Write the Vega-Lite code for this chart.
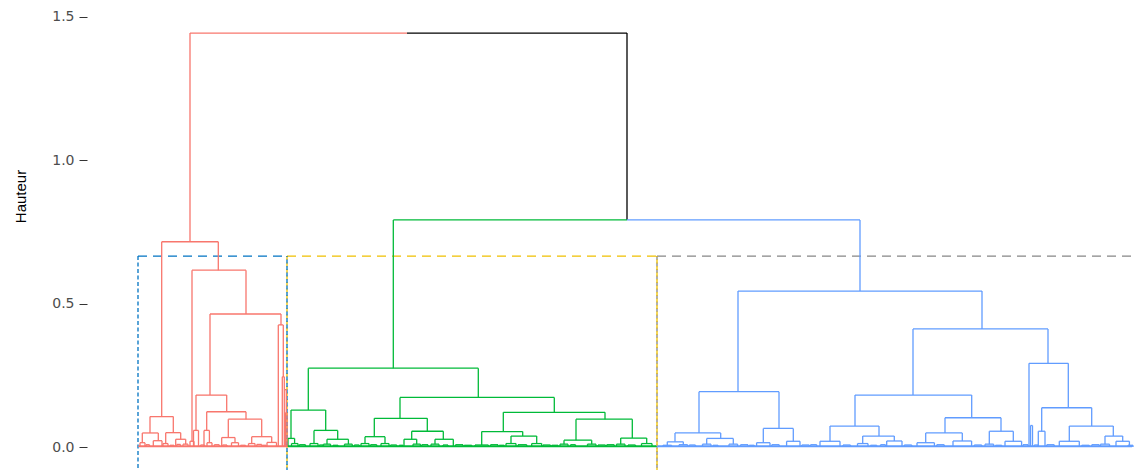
{
  "$schema": "https://vega.github.io/schema/vega-lite/v6.json",
  "width": 1049,
  "height": 470,
  "autosize": {"type": "none"},
  "padding": {"left": 87, "top": 0, "right": 0, "bottom": 0},
  "background": "white",
  "config": {
    "view": {"stroke": null},
    "font": "Liberation Sans",
    "axisY": {
      "domain": false, "grid": false, "ticks": true, "tickSize": 8, "tickColor": "#333333", "tickWidth": 1,
      "labelColor": "#4D4D4D", "labelFontSize": 14, "labelFont": "DejaVu Sans", "labelPadding": 5,
      "titleFont": "Liberation Sans", "titleFontSize": 15, "titleFontWeight": "normal", "titleColor": "#000000",
      "titleX": -67, "titleY": 196, "titleAngle": 270, "titleAlign": "center", "titleBaseline": "middle"
    }
  },
  "datasets": {
    "nodes": [
      {"a": 0.4, "b": 59.4, "h": 0.004, "ha": 0, "hb": 0, "c": "r"},
      {"a": 0.4, "b": 59.4, "h": 0.0015, "ha": 0, "hb": 0, "c": "r"},
      {"a": 9.48, "b": 32.12, "h": 0.716, "ha": 0.106, "hb": 0.617, "c": "r"},
      {"a": 4.8, "b": 14.12, "h": 0.106, "ha": 0.049, "hb": 0.05, "c": "r"},
      {"a": 1.72, "b": 8.12, "h": 0.049, "ha": 0.015, "hb": 0.022, "c": "r"},
      {"a": 0.8, "b": 2.8, "h": 0.015, "ha": 0, "hb": 0, "c": "r"},
      {"a": 6.12, "b": 9.6, "h": 0.022, "ha": 0, "hb": 0, "c": "r"},
      {"a": 11.08, "b": 17.08, "h": 0.05, "ha": 0.012, "hb": 0.027, "c": "r"},
      {"a": 10, "b": 12, "h": 0.012, "ha": 0, "hb": 0, "c": "r"},
      {"a": 15.08, "b": 19.08, "h": 0.027, "ha": 0, "hb": 0.01, "c": "r"},
      {"a": 18, "b": 20, "h": 0.01, "ha": 0, "hb": 0, "c": "r"},
      {"a": 21.6, "b": 43.2, "h": 0.617, "ha": 0.02, "hb": 0.464, "c": "r"},
      {"a": 20.8, "b": 22.4, "h": 0.02, "ha": 0, "hb": 0, "c": "r"},
      {"a": 28.8, "b": 57.2, "h": 0.464, "ha": 0.181, "hb": 0.426, "c": "r"},
      {"a": 23.2, "b": 35.48, "h": 0.181, "ha": 0.058, "hb": 0.123, "c": "r"},
      {"a": 22.2, "b": 24.2, "h": 0.058, "ha": 0, "hb": 0, "c": "r"},
      {"a": 27.48, "b": 43.2, "h": 0.123, "ha": 0.058, "hb": 0.097, "c": "r"},
      {"a": 26.4, "b": 28.56, "h": 0.058, "ha": 0, "hb": 0.015, "c": "r"},
      {"a": 27.6, "b": 29.6, "h": 0.015, "ha": 0, "hb": 0, "c": "r"},
      {"a": 36.12, "b": 49.48, "h": 0.097, "ha": 0.033, "hb": 0.036, "c": "r"},
      {"a": 33.48, "b": 38.8, "h": 0.033, "ha": 0, "hb": 0.015, "c": "r"},
      {"a": 37.4, "b": 40.2, "h": 0.015, "ha": 0, "hb": 0, "c": "r"},
      {"a": 45.48, "b": 53.48, "h": 0.036, "ha": 0.012, "hb": 0.016, "c": "r"},
      {"a": 44.2, "b": 46.8, "h": 0.012, "ha": 0, "hb": 0, "c": "r"},
      {"a": 51.6, "b": 55.4, "h": 0.016, "ha": 0, "hb": 0, "c": "r"},
      {"a": 56.12, "b": 58.12, "h": 0.426, "ha": 0, "hb": 0.245, "c": "r"},
      {"a": 57.72, "b": 58.52, "h": 0.245, "ha": 0, "hb": 0.2, "c": "r"},
      {"a": 58.52, "b": 59.32, "h": 0.2, "ha": 0, "hb": 0.12, "c": "r"},
      {"a": 59, "b": 59.6, "h": 0.12, "ha": 0, "hb": 0, "c": "r"},
      {"a": 3.2, "b": 4.6, "h": 0.008, "ha": 0, "hb": 0, "c": "r"},
      {"a": 12.8, "b": 14.4, "h": 0.006, "ha": 0, "hb": 0, "c": "r"},
      {"a": 15.5, "b": 17, "h": 0.009, "ha": 0, "hb": 0, "c": "r"},
      {"a": 25, "b": 26.6, "h": 0.007, "ha": 0, "hb": 0, "c": "r"},
      {"a": 30.5, "b": 32.5, "h": 0.008, "ha": 0, "hb": 0, "c": "r"},
      {"a": 33.8, "b": 35.6, "h": 0.007, "ha": 0, "hb": 0, "c": "r"},
      {"a": 41, "b": 43, "h": 0.006, "ha": 0, "hb": 0, "c": "r"},
      {"a": 47.5, "b": 49.5, "h": 0.009, "ha": 0, "hb": 0, "c": "r"},
      {"a": 49.8, "b": 51.2, "h": 0.006, "ha": 0, "hb": 0, "c": "r"},

      {"a": 60, "b": 207.2, "h": 0.004, "ha": 0, "hb": 0, "c": "g"},
      {"a": 60, "b": 207.2, "h": 0.0015, "ha": 0, "hb": 0, "c": "g"},
      {"a": 68.12, "b": 136.12, "h": 0.275, "ha": 0.129, "hb": 0.173, "c": "g"},
      {"a": 61.2, "b": 75.08, "h": 0.129, "ha": 0.03, "hb": 0.058, "c": "g"},
      {"a": 60, "b": 62.64, "h": 0.03, "ha": 0, "hb": 0.012, "c": "g"},
      {"a": 61.4, "b": 64, "h": 0.012, "ha": 0, "hb": 0, "c": "g"},
      {"a": 70.4, "b": 79.88, "h": 0.058, "ha": 0.012, "hb": 0.027, "c": "g"},
      {"a": 68.8, "b": 72, "h": 0.012, "ha": 0, "hb": 0, "c": "g"},
      {"a": 75.6, "b": 84.16, "h": 0.027, "ha": 0.01, "hb": 0.01, "c": "g"},
      {"a": 74.2, "b": 77, "h": 0.01, "ha": 0, "hb": 0, "c": "g"},
      {"a": 82.6, "b": 85.72, "h": 0.01, "ha": 0, "hb": 0, "c": "g"},
      {"a": 104.8, "b": 166.52, "h": 0.173, "ha": 0.1, "hb": 0.121, "c": "g"},
      {"a": 94.52, "b": 115.72, "h": 0.1, "ha": 0.036, "hb": 0.055, "c": "g"},
      {"a": 90.8, "b": 98.8, "h": 0.036, "ha": 0.012, "hb": 0.012, "c": "g"},
      {"a": 89.2, "b": 92.4, "h": 0.012, "ha": 0, "hb": 0, "c": "g"},
      {"a": 97.2, "b": 100.4, "h": 0.012, "ha": 0, "hb": 0, "c": "g"},
      {"a": 109.48, "b": 122.12, "h": 0.055, "ha": 0.027, "hb": 0.027, "c": "g"},
      {"a": 106.4, "b": 111.48, "h": 0.027, "ha": 0, "hb": 0.01, "c": "g"},
      {"a": 110, "b": 112.96, "h": 0.01, "ha": 0, "hb": 0, "c": "g"},
      {"a": 118.8, "b": 126.12, "h": 0.027, "ha": 0.01, "hb": 0, "c": "g"},
      {"a": 117.2, "b": 120.4, "h": 0.01, "ha": 0, "hb": 0, "c": "g"},
      {"a": 146.12, "b": 186.8, "h": 0.121, "ha": 0.054, "hb": 0.097, "c": "g"},
      {"a": 137.48, "b": 153.88, "h": 0.054, "ha": 0.007, "hb": 0.038, "c": "g"},
      {"a": 134.8, "b": 140.16, "h": 0.007, "ha": 0, "hb": 0, "c": "g"},
      {"a": 149.2, "b": 159.48, "h": 0.038, "ha": 0.012, "hb": 0.012, "c": "g"},
      {"a": 147.2, "b": 151.2, "h": 0.012, "ha": 0, "hb": 0, "c": "g"},
      {"a": 157.48, "b": 161.48, "h": 0.012, "ha": 0, "hb": 0, "c": "g"},
      {"a": 175.2, "b": 197.72, "h": 0.097, "ha": 0.024, "hb": 0.031, "c": "g"},
      {"a": 170.4, "b": 181.48, "h": 0.024, "ha": 0.01, "hb": 0.01, "c": "g"},
      {"a": 168.8, "b": 172, "h": 0.01, "ha": 0, "hb": 0, "c": "g"},
      {"a": 179.8, "b": 183.2, "h": 0.01, "ha": 0, "hb": 0, "c": "g"},
      {"a": 193.08, "b": 203.48, "h": 0.031, "ha": 0.01, "hb": 0.012, "c": "g"},
      {"a": 191.4, "b": 194.8, "h": 0.01, "ha": 0, "hb": 0, "c": "g"},
      {"a": 201.4, "b": 205.6, "h": 0.012, "ha": 0, "hb": 0, "c": "g"},
      {"a": 64.5, "b": 67, "h": 0.008, "ha": 0, "hb": 0, "c": "g"},
      {"a": 72.5, "b": 74, "h": 0.007, "ha": 0, "hb": 0, "c": "g"},
      {"a": 78, "b": 80, "h": 0.006, "ha": 0, "hb": 0, "c": "g"},
      {"a": 86.5, "b": 88.5, "h": 0.007, "ha": 0, "hb": 0, "c": "g"},
      {"a": 93, "b": 95.5, "h": 0.008, "ha": 0, "hb": 0, "c": "g"},
      {"a": 101, "b": 103.5, "h": 0.007, "ha": 0, "hb": 0, "c": "g"},
      {"a": 104.5, "b": 106, "h": 0.006, "ha": 0, "hb": 0, "c": "g"},
      {"a": 113.5, "b": 116, "h": 0.008, "ha": 0, "hb": 0, "c": "g"},
      {"a": 122, "b": 124, "h": 0.007, "ha": 0, "hb": 0, "c": "g"},
      {"a": 127, "b": 130, "h": 0.008, "ha": 0, "hb": 0, "c": "g"},
      {"a": 130.5, "b": 133.5, "h": 0.006, "ha": 0, "hb": 0, "c": "g"},
      {"a": 141, "b": 144, "h": 0.008, "ha": 0, "hb": 0, "c": "g"},
      {"a": 144.5, "b": 146.5, "h": 0.006, "ha": 0, "hb": 0, "c": "g"},
      {"a": 152, "b": 155.5, "h": 0.008, "ha": 0, "hb": 0, "c": "g"},
      {"a": 162, "b": 165, "h": 0.007, "ha": 0, "hb": 0, "c": "g"},
      {"a": 165.5, "b": 168, "h": 0.006, "ha": 0, "hb": 0, "c": "g"},
      {"a": 173, "b": 175, "h": 0.008, "ha": 0, "hb": 0, "c": "g"},
      {"a": 184, "b": 187, "h": 0.007, "ha": 0, "hb": 0, "c": "g"},
      {"a": 187.5, "b": 190.5, "h": 0.008, "ha": 0, "hb": 0, "c": "g"},
      {"a": 196, "b": 199, "h": 0.007, "ha": 0, "hb": 0, "c": "g"},

      {"a": 208, "b": 397.6, "h": 0.004, "ha": 0, "hb": 0, "c": "b"},
      {"a": 208, "b": 397.6, "h": 0.0015, "ha": 0, "hb": 0, "c": "b"},
      {"a": 240, "b": 337.6, "h": 0.544, "ha": 0.193, "hb": 0.412, "c": "b"},
      {"a": 224.4, "b": 256.4, "h": 0.193, "ha": 0.049, "hb": 0.065, "c": "b"},
      {"a": 214.8, "b": 233.08, "h": 0.049, "ha": 0.018, "hb": 0.03, "c": "b"},
      {"a": 211.72, "b": 218.12, "h": 0.018, "ha": 0.006, "hb": 0.008, "c": "b"},
      {"a": 210, "b": 213.44, "h": 0.006, "ha": 0, "hb": 0, "c": "b"},
      {"a": 216.4, "b": 219.84, "h": 0.008, "ha": 0, "hb": 0, "c": "b"},
      {"a": 227.48, "b": 238.12, "h": 0.03, "ha": 0.01, "hb": 0.01, "c": "b"},
      {"a": 225.8, "b": 229.2, "h": 0.01, "ha": 0, "hb": 0, "c": "b"},
      {"a": 236.4, "b": 239.84, "h": 0.01, "ha": 0, "hb": 0, "c": "b"},
      {"a": 250.12, "b": 262.12, "h": 0.065, "ha": 0.015, "hb": 0.02, "c": "b"},
      {"a": 247.44, "b": 252.8, "h": 0.015, "ha": 0, "hb": 0, "c": "b"},
      {"a": 259.44, "b": 264.8, "h": 0.02, "ha": 0, "hb": 0, "c": "b"},
      {"a": 310, "b": 364, "h": 0.412, "ha": 0.181, "hb": 0.292, "c": "b"},
      {"a": 286.8, "b": 333.48, "h": 0.181, "ha": 0.073, "hb": 0.102, "c": "b"},
      {"a": 276.8, "b": 296.4, "h": 0.073, "ha": 0.02, "hb": 0.038, "c": "b"},
      {"a": 272.8, "b": 280.8, "h": 0.02, "ha": 0, "hb": 0, "c": "b"},
      {"a": 289.88, "b": 302.52, "h": 0.038, "ha": 0.012, "hb": 0.021, "c": "b"},
      {"a": 287.8, "b": 292, "h": 0.012, "ha": 0, "hb": 0, "c": "b"},
      {"a": 299.48, "b": 305.6, "h": 0.021, "ha": 0, "hb": 0, "c": "b"},
      {"a": 322.8, "b": 345.2, "h": 0.102, "ha": 0.049, "hb": 0.055, "c": "b"},
      {"a": 315.08, "b": 329.72, "h": 0.049, "ha": 0.015, "hb": 0.021, "c": "b"},
      {"a": 311.6, "b": 318.56, "h": 0.015, "ha": 0, "hb": 0, "c": "b"},
      {"a": 326, "b": 333.44, "h": 0.021, "ha": 0, "hb": 0, "c": "b"},
      {"a": 340.52, "b": 350.12, "h": 0.055, "ha": 0.01, "hb": 0.02, "c": "b"},
      {"a": 338.8, "b": 342.24, "h": 0.01, "ha": 0, "hb": 0, "c": "b"},
      {"a": 346.8, "b": 353.44, "h": 0.02, "ha": 0, "hb": 0, "c": "b"},
      {"a": 356.4, "b": 372.12, "h": 0.292, "ha": 0, "hb": 0.137, "c": "b"},
      {"a": 357, "b": 357.8, "h": 0.075, "ha": 0, "hb": 0, "c": "b"},
      {"a": 361.48, "b": 381.48, "h": 0.137, "ha": 0.055, "hb": 0.073, "c": "b"},
      {"a": 360.12, "b": 362.8, "h": 0.055, "ha": 0, "hb": 0, "c": "b"},
      {"a": 372.52, "b": 390.12, "h": 0.073, "ha": 0.02, "hb": 0.038, "c": "b"},
      {"a": 368.52, "b": 376.52, "h": 0.02, "ha": 0, "hb": 0, "c": "b"},
      {"a": 386.8, "b": 393.88, "h": 0.038, "ha": 0.01, "hb": 0.02, "c": "b"},
      {"a": 385, "b": 388.6, "h": 0.01, "ha": 0, "hb": 0, "c": "b"},
      {"a": 391.2, "b": 396.56, "h": 0.02, "ha": 0, "hb": 0, "c": "b"},
      {"a": 220.5, "b": 223, "h": 0.007, "ha": 0, "hb": 0, "c": "b"},
      {"a": 230, "b": 232, "h": 0.006, "ha": 0, "hb": 0, "c": "b"},
      {"a": 241, "b": 244, "h": 0.008, "ha": 0, "hb": 0, "c": "b"},
      {"a": 244.5, "b": 246.5, "h": 0.006, "ha": 0, "hb": 0, "c": "b"},
      {"a": 253.5, "b": 256.5, "h": 0.008, "ha": 0, "hb": 0, "c": "b"},
      {"a": 265.5, "b": 268.5, "h": 0.007, "ha": 0, "hb": 0, "c": "b"},
      {"a": 269, "b": 271.5, "h": 0.008, "ha": 0, "hb": 0, "c": "b"},
      {"a": 282, "b": 285, "h": 0.007, "ha": 0, "hb": 0, "c": "b"},
      {"a": 293, "b": 295.5, "h": 0.006, "ha": 0, "hb": 0, "c": "b"},
      {"a": 297, "b": 299, "h": 0.008, "ha": 0, "hb": 0, "c": "b"},
      {"a": 306.5, "b": 309.5, "h": 0.007, "ha": 0, "hb": 0, "c": "b"},
      {"a": 319.5, "b": 322.5, "h": 0.008, "ha": 0, "hb": 0, "c": "b"},
      {"a": 334.5, "b": 337.5, "h": 0.007, "ha": 0, "hb": 0, "c": "b"},
      {"a": 343, "b": 345.5, "h": 0.006, "ha": 0, "hb": 0, "c": "b"},
      {"a": 354, "b": 356, "h": 0.008, "ha": 0, "hb": 0, "c": "b"},
      {"a": 358.5, "b": 360, "h": 0.007, "ha": 0, "hb": 0, "c": "b"},
      {"a": 363.5, "b": 366.5, "h": 0.008, "ha": 0, "hb": 0, "c": "b"},
      {"a": 377.5, "b": 380.5, "h": 0.006, "ha": 0, "hb": 0, "c": "b"},
      {"a": 381.5, "b": 384.5, "h": 0.008, "ha": 0, "hb": 0, "c": "b"},
      {"a": 396, "b": 398, "h": 0.006, "ha": 0, "hb": 0, "c": "b"}
    ],
    "top": [
      {"x": 20.8, "x2": 107.6, "y": 1.444, "y2": 1.444, "c": "r"},
      {"x": 107.6, "x2": 195.6, "y": 1.444, "y2": 1.444, "c": "k"},
      {"x": 20.8, "x2": 20.8, "y": 0.716, "y2": 1.444, "c": "r"},
      {"x": 195.6, "x2": 195.6, "y": 0.792, "y2": 1.444, "c": "k"},
      {"x": 102.12, "x2": 195.6, "y": 0.792, "y2": 0.792, "c": "g"},
      {"x": 195.6, "x2": 288.8, "y": 0.792, "y2": 0.792, "c": "b"},
      {"x": 102.12, "x2": 102.12, "y": 0.275, "y2": 0.792, "c": "g"},
      {"x": 288.8, "x2": 288.8, "y": 0.544, "y2": 0.792, "c": "b"}
    ],
    "rects": [
      {"x": 0, "x2": 59.6, "h": 0.666, "c": "c1"},
      {"x": 59.6, "x2": 207.6, "h": 0.666, "c": "c2"},
      {"x": 207.6, "x2": 402, "h": 0.666, "c": "c3"}
    ]
  },
  "layer": [
    {
      "data": {"name": "rects"},
      "mark": {"type": "rule", "strokeDash": [9, 6], "strokeWidth": 1.3, "clip": true},
      "encoding": {
        "x": {"field": "x", "type": "quantitative", "scale": {"domain": [-20.4, 399.2], "nice": false, "zero": false}, "axis": null},
        "x2": {"field": "x2"},
        "y": {"field": "h", "type": "quantitative", "title": "Hauteur", "scale": {"domain": [-0.0802, 1.5593], "nice": false, "zero": false}, "axis": {"values": [0, 0.5, 1, 1.5], "format": ".1f", "title": "Hauteur"}},
        "color": {"field": "c", "type": "nominal", "legend": null, "scale": {"domain": ["r", "g", "b", "k", "c1", "c2", "c3"], "range": ["#F8766D", "#00BA38", "#619CFF", "#000000", "#0073C2", "#EFC000", "#868686"]}}
      }
    },
    {
      "data": {"name": "rects"},
      "mark": {"type": "rule", "strokeDash": [4, 2.5], "strokeWidth": 1.3, "clip": true},
      "encoding": {
        "x": {"field": "x", "type": "quantitative", "scale": {"domain": [-20.4, 399.2], "nice": false, "zero": false}, "axis": null},
        "y": {"field": "h", "type": "quantitative", "title": "Hauteur", "scale": {"domain": [-0.0802, 1.5593], "nice": false, "zero": false}, "axis": {"values": [0, 0.5, 1, 1.5], "format": ".1f", "title": "Hauteur"}},
        "y2": {"datum": -0.2},
        "color": {"field": "c", "type": "nominal", "legend": null, "scale": {"domain": ["r", "g", "b", "k", "c1", "c2", "c3"], "range": ["#F8766D", "#00BA38", "#619CFF", "#000000", "#0073C2", "#EFC000", "#868686"]}}
      }
    },
    {
      "data": {"name": "rects"},
      "mark": {"type": "rule", "strokeDash": [4, 2.5], "strokeDashOffset": 3, "strokeWidth": 1.3, "clip": true},
      "encoding": {
        "x": {"field": "x2", "type": "quantitative", "scale": {"domain": [-20.4, 399.2], "nice": false, "zero": false}, "axis": null},
        "y": {"field": "h", "type": "quantitative", "title": "Hauteur", "scale": {"domain": [-0.0802, 1.5593], "nice": false, "zero": false}, "axis": {"values": [0, 0.5, 1, 1.5], "format": ".1f", "title": "Hauteur"}},
        "y2": {"datum": -0.2},
        "color": {"field": "c", "type": "nominal", "legend": null, "scale": {"domain": ["r", "g", "b", "k", "c1", "c2", "c3"], "range": ["#F8766D", "#00BA38", "#619CFF", "#000000", "#0073C2", "#EFC000", "#868686"]}}
      }
    },
    {
      "data": {"name": "nodes"},
      "mark": {"type": "rule", "strokeWidth": 1.3, "clip": true},
      "encoding": {
        "x": {"field": "a", "type": "quantitative", "scale": {"domain": [-20.4, 399.2], "nice": false, "zero": false}, "axis": null},
        "x2": {"field": "b"},
        "y": {"field": "h", "type": "quantitative", "title": "Hauteur", "scale": {"domain": [-0.0802, 1.5593], "nice": false, "zero": false}, "axis": {"values": [0, 0.5, 1, 1.5], "format": ".1f", "title": "Hauteur"}},
        "color": {"field": "c", "type": "nominal", "legend": null, "scale": {"domain": ["r", "g", "b", "k", "c1", "c2", "c3"], "range": ["#F8766D", "#00BA38", "#619CFF", "#000000", "#0073C2", "#EFC000", "#868686"]}}
      }
    },
    {
      "data": {"name": "nodes"},
      "mark": {"type": "rule", "strokeWidth": 1.3, "clip": true},
      "encoding": {
        "x": {"field": "a", "type": "quantitative", "scale": {"domain": [-20.4, 399.2], "nice": false, "zero": false}, "axis": null},
        "y": {"field": "ha", "type": "quantitative", "title": "Hauteur", "scale": {"domain": [-0.0802, 1.5593], "nice": false, "zero": false}, "axis": {"values": [0, 0.5, 1, 1.5], "format": ".1f", "title": "Hauteur"}},
        "y2": {"field": "h"},
        "color": {"field": "c", "type": "nominal", "legend": null, "scale": {"domain": ["r", "g", "b", "k", "c1", "c2", "c3"], "range": ["#F8766D", "#00BA38", "#619CFF", "#000000", "#0073C2", "#EFC000", "#868686"]}}
      }
    },
    {
      "data": {"name": "nodes"},
      "mark": {"type": "rule", "strokeWidth": 1.3, "clip": true},
      "encoding": {
        "x": {"field": "b", "type": "quantitative", "scale": {"domain": [-20.4, 399.2], "nice": false, "zero": false}, "axis": null},
        "y": {"field": "hb", "type": "quantitative", "title": "Hauteur", "scale": {"domain": [-0.0802, 1.5593], "nice": false, "zero": false}, "axis": {"values": [0, 0.5, 1, 1.5], "format": ".1f", "title": "Hauteur"}},
        "y2": {"field": "h"},
        "color": {"field": "c", "type": "nominal", "legend": null, "scale": {"domain": ["r", "g", "b", "k", "c1", "c2", "c3"], "range": ["#F8766D", "#00BA38", "#619CFF", "#000000", "#0073C2", "#EFC000", "#868686"]}}
      }
    },
    {
      "data": {"name": "top"},
      "mark": {"type": "rule", "strokeWidth": 1.3, "clip": true},
      "encoding": {
        "x": {"field": "x", "type": "quantitative", "scale": {"domain": [-20.4, 399.2], "nice": false, "zero": false}, "axis": null},
        "x2": {"field": "x2"},
        "y": {"field": "y", "type": "quantitative", "title": "Hauteur", "scale": {"domain": [-0.0802, 1.5593], "nice": false, "zero": false}, "axis": {"values": [0, 0.5, 1, 1.5], "format": ".1f", "title": "Hauteur"}},
        "y2": {"field": "y2"},
        "color": {"field": "c", "type": "nominal", "legend": null, "scale": {"domain": ["r", "g", "b", "k", "c1", "c2", "c3"], "range": ["#F8766D", "#00BA38", "#619CFF", "#000000", "#0073C2", "#EFC000", "#868686"]}}
      }
    }
  ]
}
